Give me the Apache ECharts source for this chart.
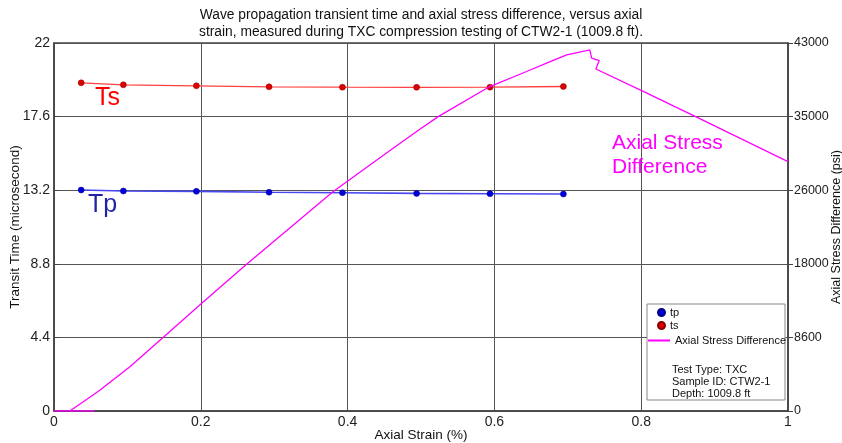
<!DOCTYPE html>
<html><head><meta charset="utf-8">
<script src="https://cdn.jsdelivr.net/npm/echarts@6/dist/echarts.min.js"></script>
<style>html,body{margin:0;padding:0;background:#fff}#c{width:842px;height:443px}</style>
</head><body><div id="c"></div>
<script>
const titleText = 'Wave propagation transient time and axial stress difference, versus axial\nstrain, measured during TXC compression testing of CTW2-1 (1009.8 ft).';
const waveStrain = [0.037, 0.0945, 0.194, 0.293, 0.393, 0.494, 0.594, 0.694];
const tpValues = [13.21, 13.15, 13.13, 13.08, 13.05, 13.01, 12.99, 12.97];
const tsValues = [19.62, 19.50, 19.44, 19.38, 19.36, 19.35, 19.36, 19.40];
const stressStrain = [0.055, 0, 0.0215, 0.0395, 0.0623, 0.103, 0.1486, 0.2009, 0.262, 0.38, 0.4007, 0.462, 0.4984, 0.5234, 0.5938, 0.6439, 0.671, 0.6984, 0.7256, 0.730, 0.7325, 0.7428, 0.7383, 0.8006, 0.8756, 1.0];
const stressValues = [0, 0, 0, 1050, 2420, 5150, 8590, 12570, 17130, 25620, 26910, 30700, 32930, 34400, 37910, 39670, 40650, 41620, 42120, 42200, 41240, 40950, 39960, 37440, 34330, 29140];
const leftTicks = ['0', '4.4', '8.8', '13.2', '17.6', '22'];
const rightTicks = ['0', '8600', '18000', '26000', '35000', '43000'];
const infoLines = ['Test Type: TXC', 'Sample ID: CTW2-1', 'Depth: 1009.8 ft'];

const FONT = '"Liberation Sans", Arial, sans-serif';
const zip = (a, b) => a.map((v, i) => [v, b[i]]);

const chart = echarts.init(document.getElementById('c'));
chart.setOption({
  animation: false,
  backgroundColor: '#fff',
  textStyle: { fontFamily: FONT },
  title: {
    text: titleText, left: 'center', top: 7, padding: 0,
    textStyle: { fontFamily: FONT, fontSize: 13.8, fontWeight: 'normal', color: '#111', lineHeight: 17 }
  },
  grid: { left: 54, right: 54, top: 43, bottom: 32, containLabel: false, outerBoundsMode: 'none',
    show: true, borderColor: '#444', borderWidth: 1.5, backgroundColor: 'transparent' },
  xAxis: {
    type: 'value', min: 0, max: 1, interval: 0.2,
    name: 'Axial Strain (%)', nameLocation: 'middle', nameGap: 17, nameMoveOverlap: false,
    nameTextStyle: { fontFamily: FONT, fontSize: 13.5, color: '#111' },
    axisLine: { show: true, lineStyle: { color: '#444', width: 1.5 } },
    axisTick: { show: false },
    axisLabel: { fontFamily: FONT, fontSize: 14, color: '#222', margin: 4 },
    splitLine: { show: true, lineStyle: { color: '#555', width: 1 } }
  },
  yAxis: [{
    type: 'value', min: 0, max: 22, interval: 4.4, position: 'left',
    name: 'Transit Time (microsecond)', nameLocation: 'middle', nameGap: 32, nameMoveOverlap: false,
    nameTextStyle: { fontFamily: FONT, fontSize: 13.5, color: '#111' },
    axisLine: { show: true, lineStyle: { color: '#444', width: 1.5 } },
    axisTick: { show: true, inside: true, length: 5, lineStyle: { color: '#444' } },
    axisLabel: { fontFamily: FONT, fontSize: 14, color: '#222', margin: 4,
      formatter: v => leftTicks[Math.round(v / 4.4)] },
    splitLine: { show: true, lineStyle: { color: '#555', width: 1 } }
  }, {
    type: 'value', min: 0, max: 43000, interval: 8600, position: 'right',
    name: 'Axial Stress Difference (psi)', nameLocation: 'middle', nameGap: 42, nameRotate: 90, nameMoveOverlap: false,
    nameTextStyle: { fontFamily: FONT, fontSize: 12.5, color: '#111' },
    axisLine: { show: true, lineStyle: { color: '#444', width: 1.5 } },
    axisTick: { show: true, inside: false, length: 5, lineStyle: { color: '#444' } },
    axisLabel: { fontFamily: FONT, fontSize: 12.5, color: '#222', margin: 6,
      formatter: v => rightTicks[Math.round(v / 8600)] },
    splitLine: { show: false }
  }],
  legend: [{
    data: ['tp', 'ts'], orient: 'vertical', left: 657, top: 307, padding: 0,
    icon: 'circle', itemWidth: 7, itemHeight: 7, itemGap: 2, z: 10,
    textStyle: { fontFamily: FONT, fontSize: 11, color: '#111' }
  }, {
    data: [{ name: 'Axial Stress Difference', icon: 'rect' }], orient: 'vertical', left: 648, top: 335, padding: 0,
    itemWidth: 22, itemHeight: 2, z: 10,
    textStyle: { fontFamily: FONT, fontSize: 11, color: '#111' }
  }],
  graphic: [
    { type: 'rect', z: 8, shape: { x: 647, y: 304, width: 138, height: 96 },
      style: { fill: '#fff', stroke: '#888', lineWidth: 1 } },
    ...infoLines.map((t, i) => ({ type: 'text', z: 9, left: 672, top: 364 + i * 12,
      style: { text: t, font: '11px ' + FONT, fill: '#111' } })),
    { type: 'text', z: 9, left: 95, top: 86, style: { text: 'Ts', font: '25px ' + FONT, fill: '#ff0000' } },
    { type: 'text', z: 9, left: 88, top: 193, style: { text: 'Tp', font: '25px ' + FONT, fill: '#2222a8' } },
    { type: 'text', z: 9, left: 612, top: 131, style: { text: 'Axial Stress\nDifference', font: '21px ' + FONT, fill: '#ff00ff', lineHeight: 24 } }
  ],
  series: [{
    name: 'tp', type: 'line', yAxisIndex: 0, data: zip(waveStrain, tpValues),
    symbol: 'circle', symbolSize: 6, z: 3,
    itemStyle: { color: '#0000dd', borderColor: '#000088', borderWidth: 0.5 },
    lineStyle: { color: '#4848f0', width: 1.6 }
  }, {
    name: 'ts', type: 'line', yAxisIndex: 0, data: zip(waveStrain, tsValues),
    symbol: 'circle', symbolSize: 6, z: 3,
    itemStyle: { color: '#dd0000', borderColor: '#880000', borderWidth: 0.5 },
    lineStyle: { color: '#ff4040', width: 1.3 }
  }, {
    name: 'Axial Stress Difference', type: 'line', yAxisIndex: 1, data: zip(stressStrain, stressValues),
    symbol: 'none', z: 4,
    itemStyle: { color: '#ff00ff' },
    lineStyle: { color: '#ff00ff', width: 1.3 }
  }]
});
</script></body></html>
